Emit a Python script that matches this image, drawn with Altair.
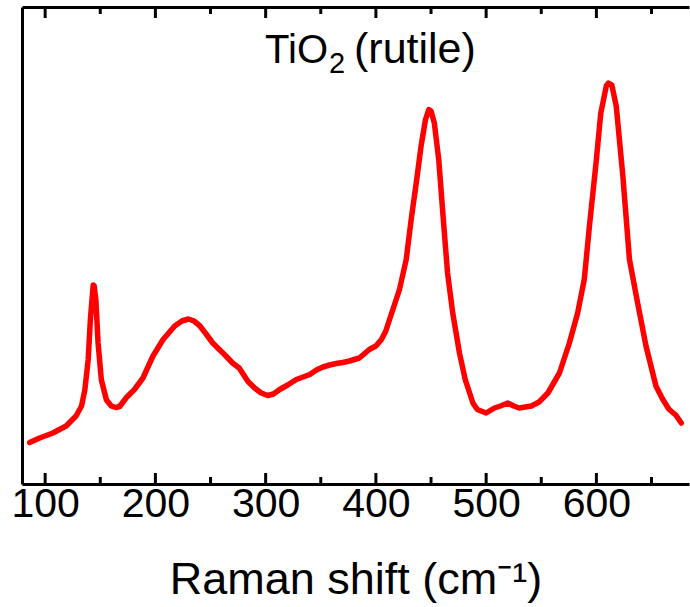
import altair as alt
import pandas as pd

# Raman spectrum of rutile TiO2 (intensity in arbitrary units)
raman_shift = [
    86, 95, 107, 119, 128, 133, 136, 139, 141, 143.6, 144.5, 146, 148, 151, 155.6,
    160, 164, 167.6, 173.7, 181, 188.7, 197.8, 207, 217.5, 224, 230, 235, 240,
    246, 252, 258, 264, 270, 276, 284, 290, 296, 302, 307, 312.7, 320, 327.8,
    334, 340, 346, 352, 358, 364, 370, 376, 385, 394, 400, 405, 409, 412.4,
    418.4, 421.4, 427.5, 432, 436.6, 441, 445, 448, 450, 453, 457, 460.7, 465,
    469.7, 475.8, 481, 488, 492, 500, 507.5, 513, 519.6, 525, 530, 541, 548,
    556, 566.5, 575.5, 583, 589, 593.7, 600, 604, 609, 611, 614, 618, 624, 630,
    637.4, 645, 654, 660, 666, 672, 677,
]
intensity = [
    41.5, 46, 51, 58, 68, 78, 94, 124, 164, 199, 198, 184, 141, 104, 84,
    78, 76.5, 77.5, 86.5, 94.5, 106, 128, 144.5, 158, 163, 165, 163, 158.5,
    150, 141, 134.5, 128, 121, 116, 102.5, 96, 91, 88.5, 90, 94.5, 99, 104.5,
    107, 109.5, 114, 117, 119, 120.5, 121.5, 123, 126, 134.5, 138, 144.5, 153, 164.5,
    184.5, 194.5, 224.5, 264.5, 301, 338, 364.5, 374.5, 373, 361, 324.5, 271, 211,
    171, 131, 104.5, 81, 74.5, 71, 76, 78, 81, 78, 76, 78, 82,
    91, 111, 141, 171, 204.5, 258, 324.5, 371, 398, 401, 399, 378, 308, 224.5,
    181, 138, 98, 85, 74.5, 69, 61,
]

major_ticks = [100, 200, 300, 400, 500, 600]
minor_ticks = [150, 250, 350, 450, 550, 650]
x_title = "Raman shift (cm\u207b\u00b9)"

W, H = 667, 477
FONT = "Liberation Sans, Arial, sans-serif"
MAJOR_LEN, MINOR_LEN = 11, 7

x_scale = alt.Scale(domain=[79, 684], nice=False, zero=False)
y_scale = alt.Scale(domain=[0, 477], nice=False, zero=False)

spectrum = pd.DataFrame({"shift": raman_shift, "intensity": intensity})
major = pd.DataFrame({"tick": major_ticks})
minor = pd.DataFrame({"tick": minor_ticks})

line = alt.Chart(spectrum).mark_line(
    color="#ff0000", strokeWidth=5.5, strokeJoin="round", strokeCap="round"
).encode(
    x=alt.X(
        "shift:Q", scale=x_scale,
        axis=alt.Axis(
            title=x_title, values=major_ticks, ticks=False, grid=False,
            domainWidth=3, domainColor="black",
            labelFont=FONT, labelFontSize=41, labelColor="black",
            labelPadding=0, labelFlush=False,
            titleFont=FONT, titleFontSize=45, titleFontWeight="normal",
            titleColor="black", titlePadding=33,
        ),
    ),
    y=alt.Y(
        "intensity:Q", scale=y_scale,
        axis=alt.Axis(title=None, labels=False, ticks=False, grid=False,
                      domainWidth=3, domainColor="black"),
    ),
)

def tick_layer(df, y0, y1, top_axis=False):
    axis = (alt.Axis(orient="top", labels=False, ticks=False, grid=False,
                     title=None, domainWidth=3, domainColor="black")
            if top_axis else None)
    return alt.Chart(df).mark_rule(color="black", strokeWidth=3).encode(
        x=alt.X("tick:Q", scale=x_scale, axis=axis),
        y=alt.value(y0), y2=alt.value(y1),
    )

ticks = [
    tick_layer(major, H, H - MAJOR_LEN),
    tick_layer(minor, H, H - MINOR_LEN),
    tick_layer(major, 0, MAJOR_LEN, top_axis=True),
    tick_layer(minor, 0, MINOR_LEN),
]

# in-plot label "TiO2 (rutile)" with a true subscript
def text_piece(text, x, y, size, align):
    return alt.Chart(pd.DataFrame({"t": [text]})).mark_text(
        font=FONT, fontSize=size, color="black", align=align, baseline="alphabetic"
    ).encode(text="t:N", x=alt.value(x), y=alt.value(y))

label = [
    text_piece("TiO", 306, 56, 40, "right"),
    text_piece("2", 307, 66, 29, "left"),
    text_piece("(rutile)", 332, 56, 43, "left"),
]

chart = alt.layer(line, *ticks, *label).resolve_axis(x="independent").properties(
    width=W, height=H,
    autosize=alt.AutoSizeParams(type="none"),
    padding={"left": 22, "top": 7, "right": 1, "bottom": 123},
).configure_view(stroke=None)

chart.save("out.html", embed_options={"renderer": "svg", "actions": False})
